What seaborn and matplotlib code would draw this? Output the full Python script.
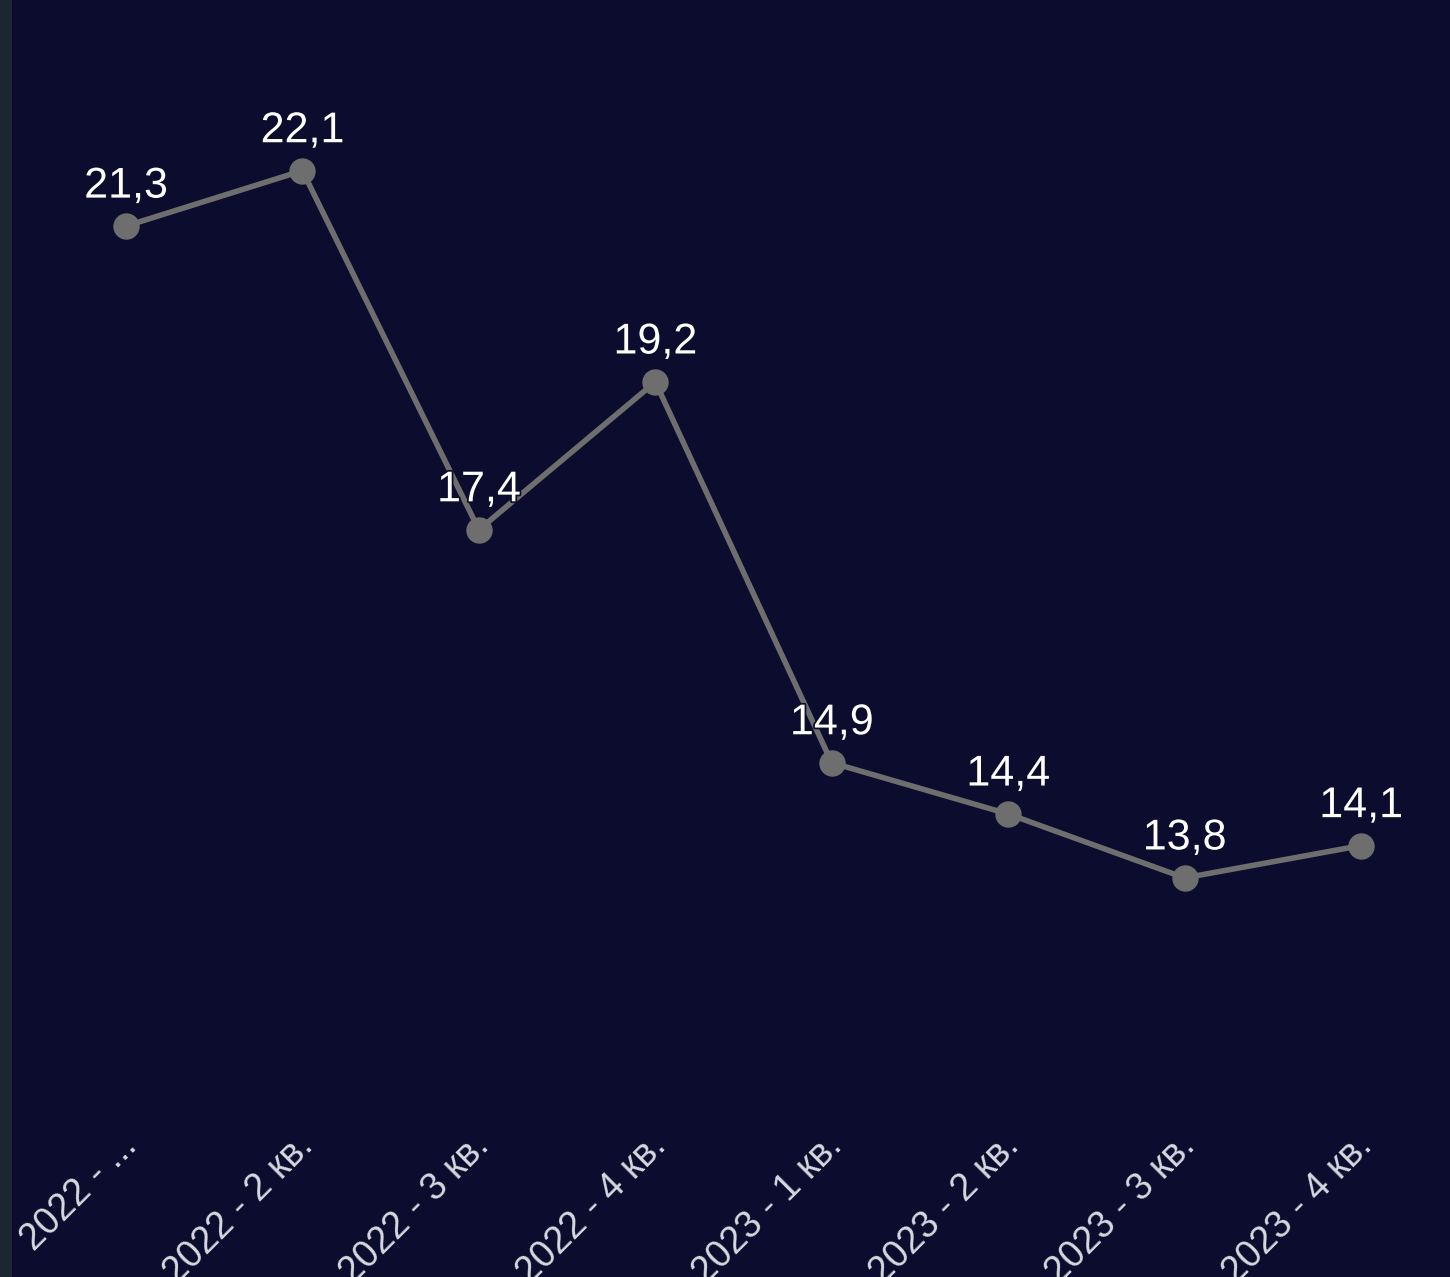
import matplotlib
matplotlib.use("Agg")
import matplotlib.pyplot as plt
import matplotlib.transforms as mtransforms
import seaborn as sns
import pandas as pd
from matplotlib.patches import Rectangle
import matplotlib.patheffects as pe

quarters = ["2022 - 1 кв.", "2022 - 2 кв.", "2022 - 3 кв.", "2022 - 4 кв.",
            "2023 - 1 кв.", "2023 - 2 кв.", "2023 - 3 кв.", "2023 - 4 кв."]
tick_labels = ["2022 - ...", "2022 - 2 кв.", "2022 - 3 кв.", "2022 - 4 кв.",
               "2023 - 1 кв.", "2023 - 2 кв.", "2023 - 3 кв.", "2023 - 4 кв."]
values = [21.3, 22.1, 17.4, 19.2, 14.9, 14.4, 13.8, 14.1]
value_labels = ["21,3", "22,1", "17,4", "19,2", "14,9", "14,4", "13,8", "14,1"]

BG = "#0c0c2e"
sns.set_theme(style="dark")
plt.rcParams['font.family'] = ['Liberation Sans', 'DejaVu Sans']

W, H = 1450, 1277
fig = plt.figure(figsize=(W / 100, H / 100), dpi=100, facecolor=BG)
fig.patches.append(Rectangle((0, 0), 12 / W, 1, transform=fig.transFigure,
                             facecolor="#1b2630", edgecolor="none", zorder=0))

ax_bottom = 1140
ax = fig.add_axes([12 / W, (H - ax_bottom) / H, (W - 12) / W, ax_bottom / H])
ax.set_facecolor(BG)

df = pd.DataFrame({"quarter": quarters, "value": values})
sns.lineplot(data=df, x="quarter", y="value", ax=ax, color="#6e6e6e",
             linewidth=4, marker="o", markersize=19, markeredgewidth=0,
             sort=False)

ax.set_yscale("log")
ax.set_ylim(11.59, 24.76)
ax.set_xlim(-0.646, 7.504)

for i, (v, lab) in enumerate(zip(values, value_labels)):
    ax.annotate(lab, (i, v), xytext=(0, 14), textcoords="offset points",
                ha="center", va="bottom", color="white", fontsize=31,
                path_effects=[pe.withStroke(linewidth=2.5, foreground=BG)])

ax.set_xticks(range(len(quarters)))
ax.set_xticklabels(tick_labels, rotation=45, ha="right", va="center",
                   rotation_mode="anchor", color="#d8d8e0", fontsize=27)
ax.tick_params(axis="x", length=0, pad=7)
offset = mtransforms.ScaledTranslation(5 / 100, 9 / 100, fig.dpi_scale_trans)
for lbl in ax.get_xticklabels():
    lbl.set_transform(lbl.get_transform() + offset)
ax.set_yticks([])
ax.yaxis.set_minor_locator(matplotlib.ticker.NullLocator())
ax.set_xlabel("")
ax.set_ylabel("")
for s in ax.spines.values():
    s.set_visible(False)
ax.grid(False)

fig.savefig("out.png", dpi=100, facecolor=BG)
